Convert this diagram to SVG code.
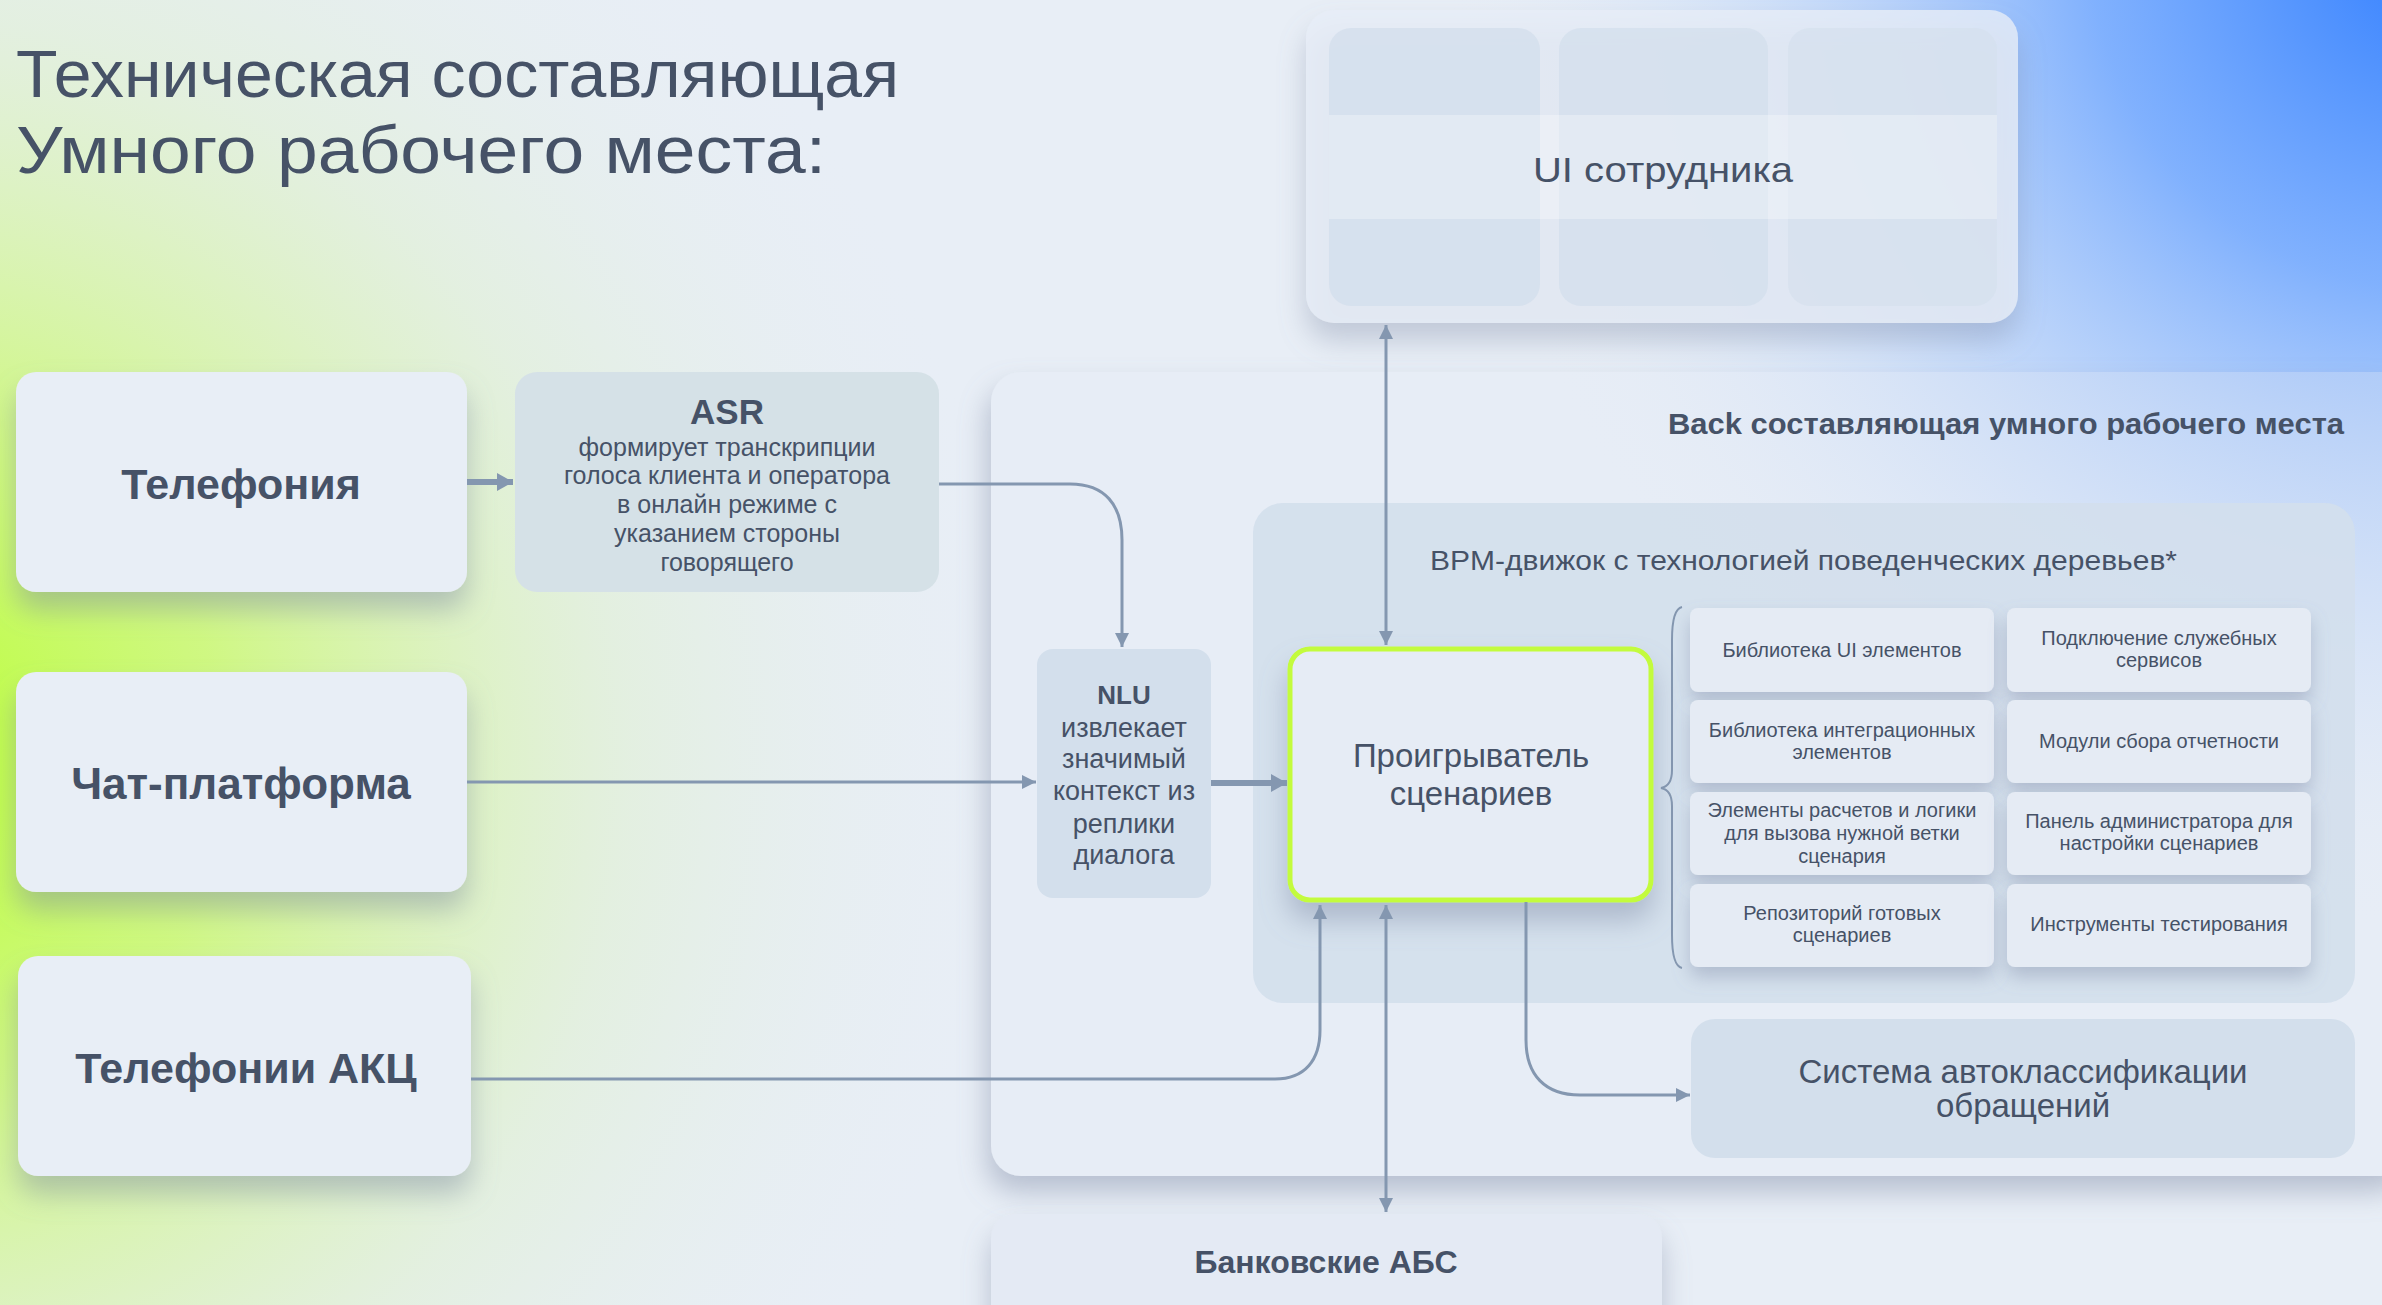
<svg xmlns="http://www.w3.org/2000/svg" width="2382" height="1305" viewBox="0 0 2382 1305">
<defs>
<radialGradient id="gGreen" cx="-120" cy="760" r="1150" gradientUnits="userSpaceOnUse">
<stop offset="0" stop-color="#b8ff2e" stop-opacity="1"/>
<stop offset="0.3" stop-color="#c9fa66" stop-opacity="0.8"/>
<stop offset="0.65" stop-color="#dcf2c0" stop-opacity="0.4"/>
<stop offset="1" stop-color="#e8eef6" stop-opacity="0"/>
</radialGradient>
<radialGradient id="gBlue" cx="2440" cy="-60" r="1000" gradientUnits="userSpaceOnUse">
<stop offset="0" stop-color="#2f7dff" stop-opacity="1"/>
<stop offset="0.35" stop-color="#6ea6ff" stop-opacity="0.85"/>
<stop offset="0.7" stop-color="#b9d3fb" stop-opacity="0.45"/>
<stop offset="1" stop-color="#e8eef6" stop-opacity="0"/>
</radialGradient>
<radialGradient id="gBlue2" cx="2440" cy="-60" r="1000" gradientUnits="userSpaceOnUse">
<stop offset="0" stop-color="#5e9dff" stop-opacity="0.9"/>
<stop offset="0.45" stop-color="#8fb8fa" stop-opacity="0.6"/>
<stop offset="0.75" stop-color="#c2d7f8" stop-opacity="0.3"/>
<stop offset="1" stop-color="#e8eef6" stop-opacity="0"/>
</radialGradient>
<filter id="sh" x="-20%" y="-20%" width="140%" height="160%">
<feDropShadow dx="0" dy="18" stdDeviation="14" flood-color="#7a86a3" flood-opacity="0.45"/>
</filter>
<filter id="shs" x="-20%" y="-20%" width="140%" height="170%">
<feDropShadow dx="0" dy="10" stdDeviation="9" flood-color="#7a86a3" flood-opacity="0.4"/>
</filter>
<filter id="shp" x="-5%" y="-5%" width="110%" height="115%">
<feDropShadow dx="-4" dy="16" stdDeviation="14" flood-color="#7a86a3" flood-opacity="0.45"/>
</filter>
<marker id="ah" viewBox="0 0 14 14" refX="14" refY="7" markerWidth="14" markerHeight="14" orient="auto-start-reverse" markerUnits="userSpaceOnUse">
<path d="M0,0 L14,7 L0,14 z" fill="#8497b0"/>
</marker>
<marker id="ahb" viewBox="0 0 16 18" refX="16" refY="9" markerWidth="16" markerHeight="18" orient="auto-start-reverse" markerUnits="userSpaceOnUse">
<path d="M0,0 L16,9 L0,18 z" fill="#8497b0"/>
</marker>
<style>
text{font-family:"Liberation Sans",Arial,sans-serif;fill:#465267;}
.b{font-weight:bold;}
.c{text-anchor:middle;}
.src{fill:#e8eef6;}
.pane{fill:#d3dfec;}
.cell{fill:#e5ebf4;}
.ct{font-size:20px;text-anchor:middle;}
.cn{fill:none;stroke:#8497b0;stroke-width:3;}
.cnb{fill:none;stroke:#8497b0;stroke-width:6;}
</style>
</defs>

<rect x="0" y="0" width="2382" height="1305" fill="#e8eef6"/>
<rect x="0" y="0" width="2382" height="1305" fill="url(#gGreen)"/>
<rect x="0" y="0" width="2382" height="1305" fill="url(#gBlue)"/>

<g id="title">
<text x="16" y="97" font-size="66" textLength="883" lengthAdjust="spacingAndGlyphs">Техническая составляющая</text>
<text x="16" y="173" font-size="66" textLength="810" lengthAdjust="spacingAndGlyphs">Умного рабочего места:</text>
</g>

<g id="ui">
<rect x="1306" y="10" width="712" height="313" rx="28" fill="#e7eef8" fill-opacity="0.8" filter="url(#sh)"/>
<rect x="1329" y="28" width="211" height="278" rx="22" class="pane" fill-opacity="0.8"/>
<rect x="1559" y="28" width="209" height="278" rx="22" class="pane" fill-opacity="0.75"/>
<rect x="1788" y="28" width="209" height="278" rx="22" class="pane" fill-opacity="0.6"/>
<rect x="1329" y="115" width="668" height="104" fill="#ffffff" fill-opacity="0.3"/>
<text x="1663" y="182" font-size="35" class="c" textLength="260" lengthAdjust="spacingAndGlyphs">UI сотрудника</text>
</g>

<g id="back">
<rect x="991" y="372" width="1420" height="804" rx="30" fill="#e7edf6" filter="url(#shp)"/>
<rect x="991" y="372" width="1420" height="804" rx="30" fill="url(#gBlue2)"/>
<text x="2344" y="434" font-size="29" class="b" text-anchor="end" textLength="676" lengthAdjust="spacingAndGlyphs">Back составляющая умного рабочего места</text>
</g>

<g id="bpm">
<rect x="1253" y="503" width="1102" height="500" rx="30" class="pane" fill-opacity="0.9"/>
<text x="1430" y="570" font-size="28" textLength="747" lengthAdjust="spacingAndGlyphs">BPM-движок с технологией поведенческих деревьев*</text>
<path d="M1682,607 Q1672,609 1672,640 L1672,770 Q1672,786 1661,788 Q1672,790 1672,806 L1672,935 Q1672,966 1682,968" fill="none" stroke="#8497b0" stroke-width="2"/>
</g>

<g id="cells">
<g id="cell1"><rect x="1690" y="608" width="304" height="84" rx="8" class="cell" filter="url(#shs)"/><text x="1842" y="657" class="ct">Библиотека UI элементов</text></g>
<g id="cell2"><rect x="2007" y="608" width="304" height="84" rx="8" class="cell" filter="url(#shs)"/><text x="2159" y="645" class="ct">Подключение служебных</text><text x="2159" y="667" class="ct">сервисов</text></g>
<g id="cell3"><rect x="1690" y="700" width="304" height="83" rx="8" class="cell" filter="url(#shs)"/><text x="1842" y="737" class="ct">Библиотека интеграционных</text><text x="1842" y="759" class="ct">элементов</text></g>
<g id="cell4"><rect x="2007" y="700" width="304" height="83" rx="8" class="cell" filter="url(#shs)"/><text x="2159" y="748" class="ct">Модули сбора отчетности</text></g>
<g id="cell5"><rect x="1690" y="792" width="304" height="83" rx="8" class="cell" filter="url(#shs)"/><text x="1842" y="817" class="ct">Элементы расчетов и логики</text><text x="1842" y="840" class="ct">для вызова нужной ветки</text><text x="1842" y="863" class="ct">сценария</text></g>
<g id="cell6"><rect x="2007" y="792" width="304" height="83" rx="8" class="cell" filter="url(#shs)"/><text x="2159" y="828" class="ct">Панель администратора для</text><text x="2159" y="850" class="ct">настройки сценариев</text></g>
<g id="cell7"><rect x="1690" y="884" width="304" height="83" rx="8" class="cell" filter="url(#shs)"/><text x="1842" y="920" class="ct">Репозиторий готовых</text><text x="1842" y="942" class="ct">сценариев</text></g>
<g id="cell8"><rect x="2007" y="884" width="304" height="83" rx="8" class="cell" filter="url(#shs)"/><text x="2159" y="931" class="ct">Инструменты тестирования</text></g>
</g>

<g id="player">
<rect x="1290" y="649" width="361" height="251" rx="20" fill="#e6ecf5" stroke="#c3fb3c" stroke-width="5" filter="url(#sh)"/>
<text x="1471" y="767" font-size="33" class="c">Проигрыватель</text>
<text x="1471" y="805" font-size="33" class="c">сценариев</text>
</g>

<g id="classif">
<rect x="1691" y="1019" width="664" height="139" rx="24" class="pane"/>
<text x="2023" y="1083" font-size="33" class="c">Система автоклассификации</text>
<text x="2023" y="1117" font-size="33" class="c">обращений</text>
</g>

<g id="abs">
<rect x="991" y="1214" width="671" height="130" rx="24" fill="#e4eaf4" filter="url(#sh)"/>
<text x="1326" y="1273" font-size="32" class="b c">Банковские АБС</text>
</g>

<g id="telephony">
<rect x="16" y="372" width="451" height="220" rx="20" class="src" filter="url(#sh)"/>
<text x="241" y="499" font-size="43" class="b c">Телефония</text>
</g>

<g id="asr">
<rect x="515" y="372" width="424" height="220" rx="22" fill="#d5e1e7"/>
<text x="727" y="424" font-size="35" class="b c">ASR</text>
<text x="727" y="456" font-size="25" class="c">формирует транскрипции</text>
<text x="727" y="484" font-size="25" class="c">голоса клиента и оператора</text>
<text x="727" y="513" font-size="25" class="c">в онлайн режиме с</text>
<text x="727" y="542" font-size="25" class="c">указанием стороны</text>
<text x="727" y="571" font-size="25" class="c">говорящего</text>
</g>

<g id="chat">
<rect x="16" y="672" width="451" height="220" rx="20" class="src" filter="url(#sh)"/>
<text x="241" y="799" font-size="44" class="b c">Чат-платформа</text>
</g>

<g id="akc">
<rect x="18" y="956" width="453" height="220" rx="20" class="src" filter="url(#sh)"/>
<text x="246" y="1083" font-size="43" class="b c">Телефонии АКЦ</text>
</g>

<g id="nlu">
<rect x="1037" y="649" width="174" height="249" rx="16" class="pane"/>
<text x="1124" y="704" font-size="26" class="b c">NLU</text>
<text x="1124" y="737" font-size="27" class="c">извлекает</text>
<text x="1124" y="768" font-size="27" class="c">значимый</text>
<text x="1124" y="800" font-size="27" class="c">контекст из</text>
<text x="1124" y="833" font-size="27" class="c">реплики</text>
<text x="1124" y="864" font-size="27" class="c">диалога</text>
</g>

<g id="connectors">
<path class="cnb" d="M467,482 H513" marker-end="url(#ahb)"/>
<path class="cn" d="M939,484 H1070 C1105,484 1122,505 1122,540 V647" marker-end="url(#ah)"/>
<path class="cn" d="M467,782 H1036" stroke-width="4" marker-end="url(#ah)"/>
<path class="cnb" d="M1211,783 H1287" marker-end="url(#ahb)"/>
<path class="cn" d="M1386,325 V645" marker-start="url(#ah)" marker-end="url(#ah)"/>
<path class="cn" d="M1386,905 V1212" stroke-width="4" marker-start="url(#ah)" marker-end="url(#ah)"/>
<path class="cn" d="M471,1079 H1275 C1305,1079 1320,1060 1320,1030 V905" marker-end="url(#ah)"/>
<path class="cn" d="M1526,902 V1040 C1526,1075 1545,1095 1580,1095 H1690" marker-end="url(#ah)"/>
</g>
</svg>
